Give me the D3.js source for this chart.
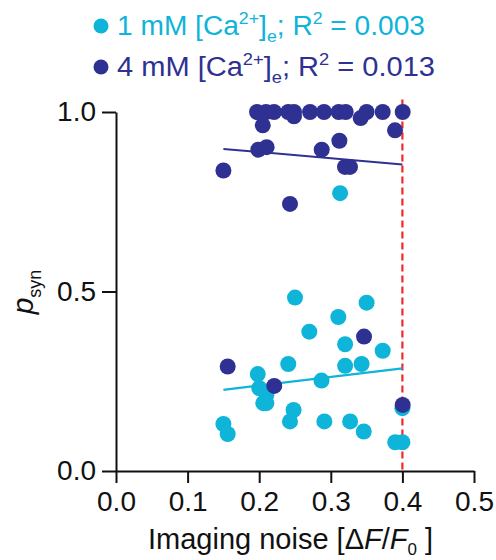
<!DOCTYPE html>
<html>
<head>
<meta charset="utf-8">
<script src="https://cdn.jsdelivr.net/npm/d3@7"></script>
<style>
  body { margin: 0; background: #fff; }
  text { font-family: "Liberation Sans", Arial, sans-serif; }
</style>
</head>
<body>
<div class="chart"></div>
<script>
var width = 496,
    height = 560;

// 1 mM [Ca2+]e (cyan)
var noise1 = [0.250, 0.350, 0.3105, 0.270, 0.320, 0.3725, 0.2406, 0.320, 0.343, 0.198, 0.287, 0.200, 0.210,
              0.2057, 0.210, 0.248, 0.243, 0.150, 0.156, 0.291, 0.327, 0.346, 0.390, 0.400, 0.400, 0.313];
var psyn1  = [0.483, 0.469, 0.429, 0.388, 0.353, 0.335, 0.298, 0.293, 0.298, 0.270, 0.252, 0.231, 0.212,
              0.189, 0.189, 0.170, 0.138, 0.131, 0.103, 0.138, 0.138, 0.110, 0.080, 0.080, 0.175, 0.774];

// 4 mM [Ca2+]e (dark blue)
var noise4 = [0.197, 0.2095, 0.2207, 0.2406, 0.2486, 0.271, 0.2905, 0.311, 0.3208, 0.350, 0.3725, 0.4004,
              0.2486, 0.3417, 0.205, 0.3897, 0.312, 0.1988, 0.2104, 0.2873, 0.3198, 0.3268, 0.150, 0.243,
              0.156, 0.221, 0.3464, 0.4004];
var psyn4  = [1.000, 1.000, 1.000, 1.000, 1.000, 1.000, 1.000, 1.000, 1.000, 1.000, 1.000, 1.000,
              0.988, 0.983, 0.963, 0.949, 0.920, 0.895, 0.902, 0.895, 0.847, 0.847, 0.837, 0.744,
              0.291, 0.237, 0.3745, 0.184];

// linear fits, drawn between fitX ends
var fitX = [0.15, 0.40];
var fit1 = [0.226, 0.286];
var fit4 = [0.897, 0.854];

var threshold = 0.4;
var xTicks = [0, 0.1, 0.2, 0.3, 0.4, 0.5];
var yTicks = [0, 0.5, 1.0];

var cyan = "#0fb4d9",
    navy = "#2e3192",
    red = "#ee2a2a";

var svg = d3.select(".chart").append("svg")
    .attr("width", width)
    .attr("height", height);

var x = d3.scaleLinear().domain([0, 0.5]).range([116, 474]);
var y = d3.scaleLinear().domain([0, 1]).range([471, 112]);

// axes
svg.append("g")
    .attr("transform", "translate(0," + y(0) + ")")
    .call(d3.axisBottom(x).tickValues(xTicks).tickFormat(d3.format(".1f"))
      .tickSize(12).tickSizeOuter(0).tickPadding(8));

svg.append("g")
    .attr("transform", "translate(" + x(0) + ",0)")
    .call(d3.axisLeft(y).tickValues(yTicks).tickFormat(d3.format(".1f"))
      .tickSize(14).tickSizeOuter(0).tickPadding(6));

svg.selectAll(".domain, .tick line")
    .attr("stroke", "#111")
    .attr("stroke-width", 2);
svg.selectAll(".tick text")
    .attr("font-size", 28)
    .attr("fill", "#111")
    .style("font-family", "'Liberation Sans', Arial, sans-serif");

// threshold line
svg.append("line")
    .attr("x1", x(threshold)).attr("x2", x(threshold))
    .attr("y1", y(1.035)).attr("y2", y(0))
    .attr("stroke", red)
    .attr("stroke-width", 2.2)
    .attr("stroke-dasharray", "7,4");

// points, 1 mM first
var data1 = noise1.map(function(d, i) { return {x: d, y: psyn1[i]}; });
var data4 = noise4.map(function(d, i) { return {x: d, y: psyn4[i]}; });

svg.append("g").selectAll("circle")
    .data(data1)
    .enter().append("circle")
      .attr("cx", function(d) { return x(d.x); })
      .attr("cy", function(d) { return y(d.y); })
      .attr("r", 8)
      .attr("fill", cyan);

svg.append("line")
    .attr("x1", x(fitX[0])).attr("y1", y(fit1[0]))
    .attr("x2", x(fitX[1])).attr("y2", y(fit1[1]))
    .attr("stroke", cyan)
    .attr("stroke-width", 2.2);

svg.append("g").selectAll("circle")
    .data(data4)
    .enter().append("circle")
      .attr("cx", function(d) { return x(d.x); })
      .attr("cy", function(d) { return y(d.y); })
      .attr("r", 8)
      .attr("fill", navy);

svg.append("line")
    .attr("x1", x(fitX[0])).attr("y1", y(fit4[0]))
    .attr("x2", x(fitX[1])).attr("y2", y(fit4[1]))
    .attr("stroke", navy)
    .attr("stroke-width", 2);

// legend
var legend = [
  {conc: "1", r2: "0.003", color: cyan, y: 35, len: 308},
  {conc: "4", r2: "0.013", color: navy, y: 76, len: 318}
];

legend.forEach(function(l) {
  svg.append("circle")
      .attr("cx", 101).attr("cy", l.y - 9)
      .attr("r", 7.5)
      .attr("fill", l.color);

  var t = svg.append("text")
      .attr("x", 117).attr("y", l.y)
      .attr("font-size", 27)
      .attr("fill", l.color)
      .attr("textLength", l.len)
      .attr("lengthAdjust", "spacingAndGlyphs");
  t.append("tspan").text(l.conc + " mM [Ca");
  t.append("tspan").attr("font-size", 17).attr("dy", -11).text("2+");
  t.append("tspan").attr("dy", 11).text("]");
  t.append("tspan").attr("font-size", 17).attr("dy", 7).text("e");
  t.append("tspan").attr("dy", -7).text("; R");
  t.append("tspan").attr("font-size", 17).attr("dy", -11).text("2");
  t.append("tspan").attr("dy", 11).text(" = " + l.r2);
});

// axis titles
var xt = svg.append("text")
    .attr("x", 148).attr("y", 549)
    .attr("font-size", 29)
    .attr("fill", "#111");
xt.append("tspan").text("Imaging noise [\u0394");
xt.append("tspan").attr("font-style", "italic").text("F");
xt.append("tspan").text("/");
xt.append("tspan").attr("font-style", "italic").text("F");
xt.append("tspan").attr("font-size", 17).attr("dy", 6).text("0");
xt.append("tspan").attr("dy", -6).text(" ]");

var yt = svg.append("text")
    .attr("transform", "translate(33,292) rotate(-90)")
    .attr("text-anchor", "middle")
    .attr("font-size", 30)
    .attr("fill", "#111");
yt.append("tspan").attr("font-style", "italic").text("p");
yt.append("tspan").attr("font-size", 18).attr("dy", 8).text("syn");
</script>
</body>
</html>
